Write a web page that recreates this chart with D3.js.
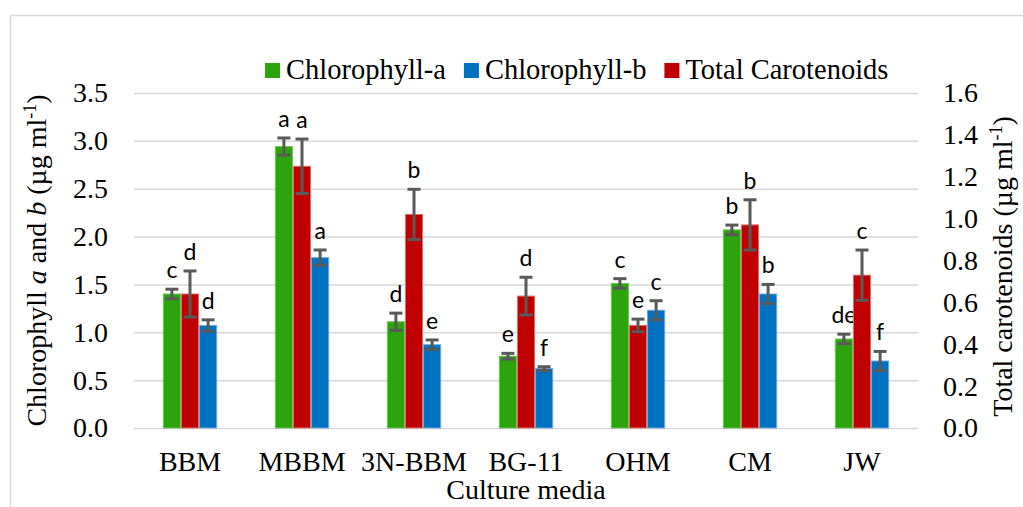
<!DOCTYPE html>
<html lang="en">
<head>
<meta charset="UTF-8">
<title>Pigments by culture media</title>
<script src="https://cdnjs.cloudflare.com/ajax/libs/d3/7.8.5/d3.min.js"></script>
<style>
  body { margin: 0; background: #fff; }
  text { font-family: "Liberation Serif", "Times New Roman", serif; fill: #000; }
  .lbl { font-family: Lato, "Open Sans", sans-serif; }
</style>
<script>
var media = ["BBM", "MBBM", "3N-BBM", "BG-11", "OHM", "CM", "JW"];

var chlA = [1.40, 2.94, 1.11, 0.75, 1.51, 2.07, 0.93];
var chlAErr = [0.05, 0.09, 0.09, 0.03, 0.05, 0.05, 0.05];
var chlALetters = ["c", "a", "d", "e", "c", "b", "de"];

var carot = [0.64, 1.25, 1.02, 0.63, 0.49, 0.97, 0.73];
var carotErr = [0.11, 0.13, 0.12, 0.09, 0.03, 0.12, 0.12];
var carotLetters = ["d", "a", "b", "d", "e", "b", "c"];

var chlB = [1.07, 1.78, 0.87, 0.62, 1.23, 1.40, 0.70];
var chlBErr = [0.06, 0.08, 0.05, 0.02, 0.10, 0.10, 0.10];
var chlBLetters = ["d", "a", "e", "f", "c", "b", "f"];

var leftTicks = [0, 0.5, 1.0, 1.5, 2.0, 2.5, 3.0, 3.5];
var rightTicks = [0, 0.2, 0.4, 0.6, 0.8, 1.0, 1.2, 1.4, 1.6];

function draw() {
	var svg = d3.select("svg");
	var left = 134, right = 918, top = 93, bottom = 428;

	// chart frame
	svg.append("rect").attr("x", 10.5).attr("y", 15.5).attr("width", 1040).attr("height", 520)
		.attr("fill", "none").attr("stroke", "#d9d9d9").attr("stroke-width", 1.5);

	var yL = d3.scaleLinear().domain([0, 3.5]).range([bottom, top]);
	var yR = d3.scaleLinear().domain([0, 1.6]).range([bottom, top]);
	var x0 = d3.scaleBand().domain(media).range([left, right]);
	var groupW = x0.bandwidth() * 0.485;
	var series = [
		{key: "a", vals: chlA, err: chlAErr, letters: chlALetters, y: yL, color: "#2ca50c", edge: "#6cc455"},
		{key: "t", vals: carot, err: carotErr, letters: carotLetters, y: yR, color: "#c00000", edge: "#e07070"},
		{key: "b", vals: chlB, err: chlBErr, letters: chlBLetters, y: yL, color: "#0070c0", edge: "#6aa8dc"}
	];
	var x1 = d3.scaleBand().domain(series.map(s => s.key)).range([0, groupW]);
	var barX = (i, s) => x0(media[i]) + (x0.bandwidth() - groupW) / 2 + x1(s.key);

	// left axis + gridlines
	var gl = svg.append("g").attr("transform", `translate(${left},0)`)
		.call(d3.axisLeft(yL).tickValues(leftTicks).tickFormat(d3.format(".1f"))
			.tickSize(-(right - left)).tickPadding(26));
	gl.select(".domain").remove();
	gl.selectAll("line").attr("stroke", "#d9d9d9").attr("stroke-width", 1.5);
	gl.selectAll("text").style("font-size", "28px").attr("font-family", null);

	// right axis
	var gr = svg.append("g").attr("transform", `translate(${right},0)`)
		.call(d3.axisRight(yR).tickValues(rightTicks).tickFormat(d3.format(".1f"))
			.tickSize(0).tickPadding(25));
	gr.select(".domain").remove();
	gr.selectAll("text").style("font-size", "28px").attr("font-family", null);

	// category labels
	var gb = svg.append("g").attr("transform", `translate(0,${bottom})`)
		.call(d3.axisBottom(x0).tickSize(0).tickPadding(23));
	gb.select(".domain").remove();
	gb.selectAll("text").style("font-size", "28px").attr("font-family", null);

	// bars, error bars, letters
	series.forEach(function(s) {
		var g = svg.append("g");
		var idx = d3.range(media.length);
		g.selectAll("rect").data(idx).enter().append("rect")
			.attr("x", i => barX(i, s) + 0.5)
			.attr("width", x1.bandwidth() - 1)
			.attr("y", i => s.y(s.vals[i]))
			.attr("height", i => bottom - s.y(s.vals[i]))
			.attr("fill", s.color)
			.attr("stroke", s.edge).attr("stroke-width", 1);

		var cx = i => barX(i, s) + x1.bandwidth() / 2;
		var eb = g.selectAll("g.err").data(idx).enter().append("g").attr("class", "err")
			.attr("stroke", "#595959").attr("stroke-width", 3);
		eb.append("line").attr("x1", cx).attr("x2", cx)
			.attr("y1", i => s.y(s.vals[i] + s.err[i])).attr("y2", i => s.y(s.vals[i] - s.err[i]));
		eb.append("line").attr("x1", i => cx(i) - 6.5).attr("x2", i => cx(i) + 6.5)
			.attr("y1", i => s.y(s.vals[i] + s.err[i])).attr("y2", i => s.y(s.vals[i] + s.err[i]));
		eb.append("line").attr("x1", i => cx(i) - 6.5).attr("x2", i => cx(i) + 6.5)
			.attr("y1", i => s.y(s.vals[i] - s.err[i])).attr("y2", i => s.y(s.vals[i] - s.err[i]));

		g.selectAll("text").data(idx).enter().append("text").attr("class", "lbl")
			.attr("x", cx)
			.attr("y", i => s.y(s.vals[i] + s.err[i]) - 11)
			.attr("text-anchor", "middle")
			.style("font-size", "23px")
			.text(i => s.letters[i]);
	});

	// axis titles
	var tl = svg.append("text").attr("transform", `translate(46,${(top + bottom) / 2}) rotate(-90)`)
		.attr("text-anchor", "middle").style("font-size", "28px");
	tl.append("tspan").text("Chlorophyll ");
	tl.append("tspan").attr("font-style", "italic").text("a");
	tl.append("tspan").text(" and ");
	tl.append("tspan").attr("font-style", "italic").text("b");
	tl.append("tspan").text(" (µg ml");
	tl.append("tspan").attr("dy", -10).style("font-size", "18px").text("-1");
	tl.append("tspan").attr("dy", 10).text(")");

	var tr = svg.append("text").attr("transform", `translate(1012,${(top + bottom) / 2 + 6}) rotate(-90)`)
		.attr("text-anchor", "middle").style("font-size", "28px");
	tr.append("tspan").text("Total carotenoids (µg ml");
	tr.append("tspan").attr("dy", -10).style("font-size", "18px").text("-1");
	tr.append("tspan").attr("dy", 10).text(")");

	svg.append("text").attr("x", (left + right) / 2).attr("y", 499)
		.attr("text-anchor", "middle").style("font-size", "28px").text("Culture media");

	// legend
	var legend = [
		{name: "Chlorophyll-a", color: "#2ca50c"},
		{name: "Chlorophyll-b", color: "#0070c0"},
		{name: "Total Carotenoids", color: "#c00000"}
	];
	var lx = 265;
	legend.forEach(function(d) {
		svg.append("rect").attr("x", lx).attr("y", 63).attr("width", 15).attr("height", 15).attr("fill", d.color);
		var t = svg.append("text").attr("x", lx + 21).attr("y", 79).style("font-size", "28.5px").text(d.name);
		lx += 21 + t.node().getComputedTextLength() + 18;
	});
}
</script>
</head>
<body onload="draw()">
<svg width="1023" height="507"></svg>
</body>
</html>
